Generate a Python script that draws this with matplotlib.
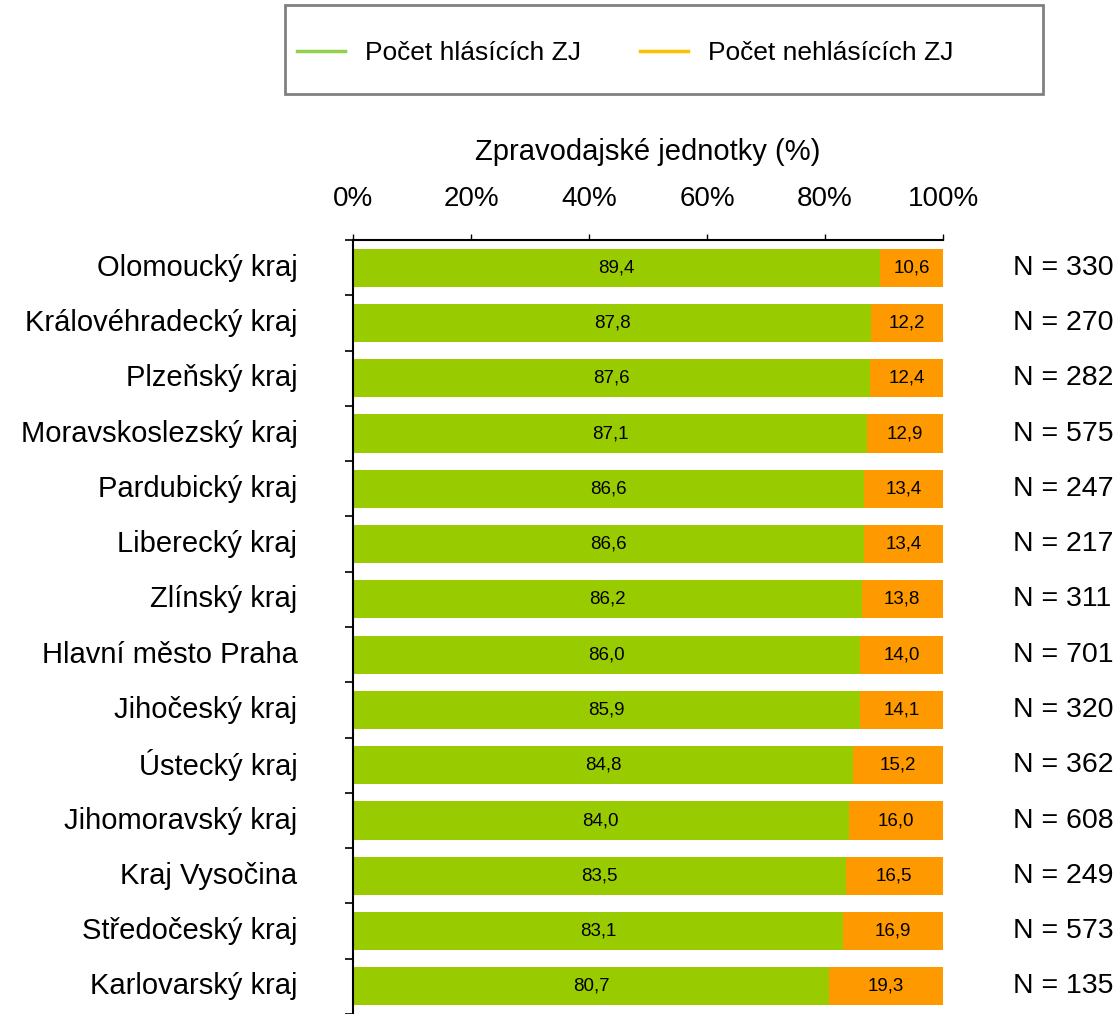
import matplotlib
matplotlib.use("Agg")
import matplotlib.pyplot as plt
from matplotlib.lines import Line2D
from matplotlib.patches import Rectangle
import numpy as np

plt.rcParams['font.family'] = ['Liberation Sans', 'DejaVu Sans']

regions = ["Olomoucký kraj", "Královéhradecký kraj", "Plzeňský kraj",
           "Moravskoslezský kraj", "Pardubický kraj", "Liberecký kraj",
           "Zlínský kraj", "Hlavní město Praha", "Jihočeský kraj",
           "Ústecký kraj", "Jihomoravský kraj", "Kraj Vysočina",
           "Středočeský kraj", "Karlovarský kraj"]
reporting = [89.4, 87.8, 87.6, 87.1, 86.6, 86.6, 86.2, 86.0, 85.9, 84.8, 84.0, 83.5, 83.1, 80.7]
not_reporting = [10.6, 12.2, 12.4, 12.9, 13.4, 13.4, 13.8, 14.0, 14.1, 15.2, 16.0, 16.5, 16.9, 19.3]
n_units = [330, 270, 282, 575, 247, 217, 311, 701, 320, 362, 608, 249, 573, 135]

green = '#99CC00'
orange = '#FF9900'

W, H = 1117, 1014
fig = plt.figure(figsize=(W / 100, H / 100), dpi=100)
ax = fig.add_axes([353/W, 0.0, 590/W, 1 - 240/H])

y = np.arange(len(regions))
h = 0.69
ax.barh(y, reporting, height=h, color=green)
ax.barh(y, not_reporting, left=reporting, height=h, color=orange)

def fmt(v):
    return f"{v:.1f}".replace('.', ',')

for i in range(len(regions)):
    ax.text(reporting[i] / 2, y[i], fmt(reporting[i]), ha='center', va='center', fontsize=13.5)
    ax.text(reporting[i] + not_reporting[i] / 2, y[i], fmt(not_reporting[i]),
            ha='center', va='center', fontsize=13.5)
    ax.text(1.119, y[i], f"N = {n_units[i]}", transform=ax.get_yaxis_transform(),
            ha='left', va='center', fontsize=20.5)

ax.set_xlim(0, 100)
ax.set_ylim(len(regions) - 0.5, -0.5)

# x axis on top
ax.xaxis.tick_top()
ax.xaxis.set_label_position('top')
ax.set_xticks([0, 20, 40, 60, 80, 100])
ax.set_xticklabels(['0%', '20%', '40%', '60%', '80%', '100%'])
ax.tick_params(axis='x', which='major', direction='out', length=4, width=1,
               labelsize=20, pad=16)
ax.set_xlabel("Zpravodajské jednotky (%)", fontsize=21, labelpad=19)

# y axis: labels at centres, tick marks at boundaries
ax.set_yticks(y)
ax.set_yticklabels(regions, va='center')
ax.set_yticks(np.arange(len(regions) + 1) - 0.5, minor=True)
ax.tick_params(axis='y', which='major', length=0, labelsize=21, pad=40)
ax.tick_params(axis='y', which='minor', length=6, width=1.2)

for s in ['right', 'bottom']:
    ax.spines[s].set_visible(False)
ax.spines['left'].set_linewidth(1.5)
ax.spines['top'].set_linewidth(1.5)

# legend box drawn separately (content sits left of centre in the original)
fig.patches.append(Rectangle((285/W, 1 - 94/H), 758/W, 89/H, transform=fig.transFigure,
                             fill=False, edgecolor='#808080', linewidth=2))
handles = [Line2D([], [], color='#92D050', lw=2.5),
           Line2D([], [], color='#FFC000', lw=2.5)]
fig.legend(handles, ["Počet hlásících ZJ", "Počet nehlásících ZJ"],
           loc='center left', bbox_to_anchor=(297/W, 1 - 53/H),
           ncol=2, fontsize=19, frameon=False, handlelength=1.82,
           handletextpad=0.75, columnspacing=2.25, borderpad=0, borderaxespad=0)

fig.savefig('out.png', dpi=100)
